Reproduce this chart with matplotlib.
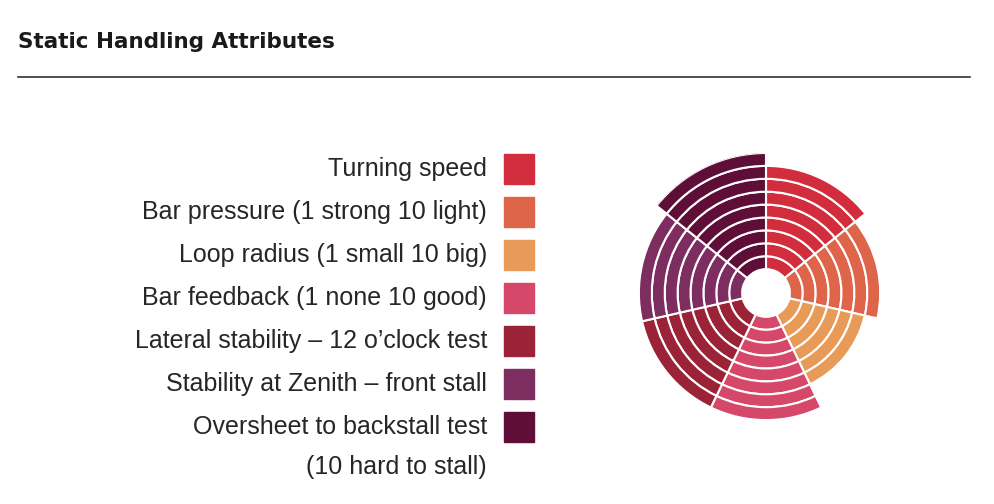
import numpy as np
import matplotlib.pyplot as plt

# data
labels = [
    'Turning speed',
    'Bar pressure (1 strong 10 light)',
    'Loop radius (1 small 10 big)',
    'Bar feedback (1 none 10 good)',
    'Lateral stability \u2013 12 o\u2019clock test',
    'Stability at Zenith \u2013 front stall',
    'Oversheet to backstall test',
]
footnote = '(10 hard to stall)'
scores = [8, 7, 6, 8, 8, 8, 9]
colors = ['#d22d3c', '#de654a', '#e89b58', '#d6486a', '#9b2337', '#7d2d5f', '#5f0f37']

W, H = 994, 504
fig = plt.figure(figsize=(W / 100, H / 100), dpi=100)
plt.rcParams['font.family'] = ['Liberation Sans', 'DejaVu Sans']

def fx(px):
    return px / W

def fy(py):
    return 1 - py / H

# header
fig.text(fx(18), fy(42), 'Static Handling Attributes', fontsize=15.5, fontweight='bold',
         family=['DejaVu Sans'], color='#1a1a1a', va='center', ha='left')
fig.add_artist(plt.Line2D([fx(18), fx(970)], [fy(77), fy(77)], color='#333333', lw=1.2))

# legend (text + swatches)
row0, step = 169, 43
for i, (lab, col) in enumerate(zip(labels, colors)):
    y = row0 + i * step
    fig.text(fx(487), fy(y), lab, fontsize=18, color='#262626', ha='right', va='center')
    fig.patches.append(plt.Rectangle((fx(504), fy(y + 15)), fx(30), 30 / H,
                                     transform=fig.transFigure, color=col, figure=fig))
fig.text(fx(487), fy(row0 + 7 * step - 3), footnote, fontsize=18, color='#262626',
         ha='right', va='center')

# polar ring chart
cx, cy, R = 766, 293, 140
hole = 1.85
ax = fig.add_axes([fx(cx - R), (H - cy - R) / H, 2 * R / W, 2 * R / H], projection='polar')
ax.set_theta_zero_location('N')
ax.set_theta_direction(-1)
n = len(scores)
width = 2 * np.pi / n
for i, (v, col) in enumerate(zip(scores, colors)):
    theta = (i + 0.5) * width
    for j in range(v):
        ax.bar(theta, 1, width=width, bottom=hole + j, color=col,
               edgecolor='white', linewidth=1.5)
ax.set_ylim(0, hole + max(scores))
ax.set_axis_off()

fig.savefig('out.png', dpi=100)
